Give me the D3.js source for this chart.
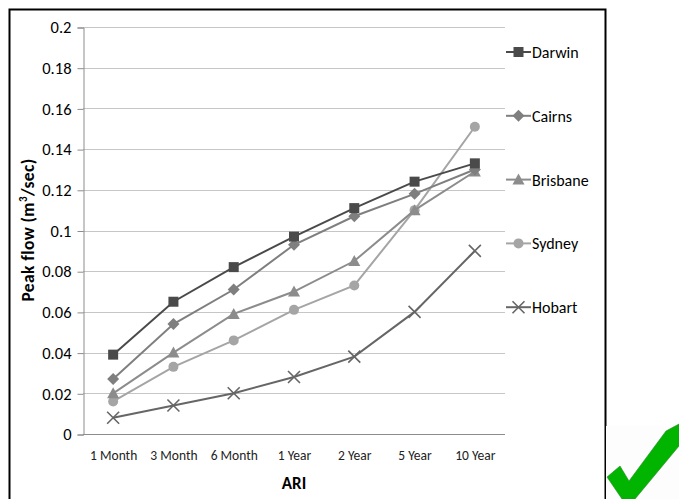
<!DOCTYPE html>
<html>
<head>
<meta charset="utf-8">
<script src="https://cdn.jsdelivr.net/npm/d3@7"></script>
<style>
  body { margin: 0; background: #fff; }
  svg { display: block; }
</style>
</head>
<body>
<div id="chart"></div>
<script>
// data
var categories = ["1 Month", "3 Month", "6 Month", "1 Year", "2 Year", "5 Year", "10 Year"];
var darwin   = [0.039, 0.065, 0.082, 0.097, 0.111, 0.124, 0.133];
var cairns   = [0.027, 0.054, 0.071, 0.093, 0.107, 0.118, 0.130];
var brisbane = [0.020, 0.040, 0.059, 0.070, 0.085, 0.110, 0.129];
var sydney   = [0.016, 0.033, 0.046, 0.061, 0.073, 0.110, 0.151];
var hobart   = [0.008, 0.014, 0.020, 0.028, 0.038, 0.060, 0.090];
var yTicks   = [0, 0.02, 0.04, 0.06, 0.08, 0.1, 0.12, 0.14, 0.16, 0.18, 0.2];

var series = [
  {name: "Darwin",   values: darwin,   color: "#4a4a4a", marker: "square"},
  {name: "Cairns",   values: cairns,   color: "#7f7f7f", marker: "diamond"},
  {name: "Brisbane", values: brisbane, color: "#8c8c8c", marker: "triangle"},
  {name: "Sydney",   values: sydney,   color: "#a5a5a5", marker: "circle"},
  {name: "Hobart",   values: hobart,   color: "#666666", marker: "x"}
];

var width = 679, height = 499;
var font = "Calibri, Carlito, 'Liberation Sans Narrow', 'Liberation Sans', Arial, sans-serif";

var svg = d3.select("#chart").append("svg")
  .attr("width", width)
  .attr("height", height);

// outer frame
svg.append("path")
  .attr("d", "M9.5,499 L9.5,9.5 L605.5,9.5 L605.5,499")
  .attr("fill", "none")
  .attr("stroke", "#000")
  .attr("stroke-width", 2);

var plot = {left: 83, right: 505, top: 27, bottom: 434};

var x = d3.scalePoint()
  .domain(categories)
  .range([plot.left, plot.right])
  .padding(0.5);

var y = d3.scaleLinear()
  .domain([0, 0.2])
  .range([plot.bottom, plot.top]);

// gridlines
svg.append("g")
  .selectAll("line")
  .data(yTicks.slice(1))
  .enter().append("line")
  .attr("x1", plot.left).attr("x2", plot.right)
  .attr("y1", function(d) { return Math.round(y(d)) + 0.5; })
  .attr("y2", function(d) { return Math.round(y(d)) + 0.5; })
  .attr("stroke", "#c6c6c6")
  .attr("stroke-width", 1);

// y axis
var yAxis = svg.append("g")
  .attr("transform", "translate(" + (plot.left + 0.5) + ",0.5)")
  .call(d3.axisLeft(y).tickValues(yTicks).tickSize(6).tickPadding(6)
    .tickFormat(function(d) { return d3.format("")(+d.toFixed(2)); }));
yAxis.select(".domain").attr("stroke", "#8c8c8c");
yAxis.selectAll(".tick line").attr("stroke", "#8c8c8c");
yAxis.selectAll("text")
  .attr("font-family", font)
  .attr("font-size", "16.5px")
  .attr("fill", "#000");

// x axis
var xAxis = svg.append("g")
  .attr("transform", "translate(0," + (plot.bottom + 0.5) + ")")
  .call(d3.axisBottom(x).tickSize(0).tickPadding(16));
xAxis.select(".domain").attr("stroke", "#8c8c8c").attr("d", "M" + plot.left + ",0H" + plot.right);
xAxis.selectAll("text")
  .attr("font-family", font)
  .attr("font-size", "13.5px")
  .attr("fill", "#222");

// axis titles
svg.append("text")
  .attr("x", 294).attr("y", 489)
  .attr("text-anchor", "middle")
  .attr("font-family", font)
  .attr("font-size", "17px")
  .attr("font-weight", "bold")
  .text("ARI");

var yt = svg.append("text")
  .attr("transform", "translate(34,230) rotate(-90)")
  .attr("text-anchor", "middle")
  .attr("font-family", font)
  .attr("font-size", "17.5px")
  .attr("letter-spacing", "0.4px")
  .attr("font-weight", "bold");
yt.append("tspan").text("Peak flow (m");
yt.append("tspan").attr("dy", -7).attr("font-size", "11px").text("3");
yt.append("tspan").attr("dy", 7).text("/sec)");

function drawMarker(g, type, color) {
  if (type === "square") {
    g.append("rect").attr("x", -5).attr("y", -5).attr("width", 10).attr("height", 10).attr("fill", color);
  } else if (type === "diamond") {
    g.append("path").attr("d", "M0,-6L6,0L0,6L-6,0Z").attr("fill", color);
  } else if (type === "triangle") {
    g.append("path").attr("d", "M0,-6L6,5L-6,5Z").attr("fill", color);
  } else if (type === "circle") {
    g.append("circle").attr("r", 5).attr("fill", color);
  } else {
    g.append("path").attr("d", "M-6,-6L6,6M-6,6L6,-6").attr("stroke", color).attr("stroke-width", 1.6).attr("fill", "none");
  }
}

var line = d3.line()
  .x(function(d, i) { return x(categories[i]); })
  .y(function(d) { return y(d); });

// draw series, last first so Darwin sits on top
series.slice().reverse().forEach(function(s) {
  svg.append("path")
    .datum(s.values)
    .attr("d", line)
    .attr("fill", "none")
    .attr("stroke", s.color)
    .attr("stroke-width", 2);

  s.values.forEach(function(v, i) {
    var g = svg.append("g")
      .attr("transform", "translate(" + x(categories[i]) + "," + y(v) + ")");
    drawMarker(g, s.marker, s.color);
  });
});

// legend
var legend = svg.append("g");
series.forEach(function(s, i) {
  var ly = 52 + i * 63.8;
  var g = legend.append("g").attr("transform", "translate(0," + ly + ")");
  g.append("line")
    .attr("x1", 506).attr("x2", 531)
    .attr("stroke", s.color).attr("stroke-width", 2);
  var m = g.append("g").attr("transform", "translate(518.5,0)");
  drawMarker(m, s.marker, s.color);
  g.append("text")
    .attr("x", 532).attr("y", 6)
    .attr("font-family", font)
    .attr("font-size", "16px")
    .attr("fill", "#000")
    .text(s.name);
});

// green tick in the corner
svg.append("rect")
  .attr("x", 606).attr("y", 426).attr("width", 73).attr("height", 73)
  .attr("fill", "#fdfdfd");
svg.append("path")
  .attr("d", "M607,477 L620,466 L629,481 L666,431 L679,424 L679,446 L635,499 L622,499 Z")
  .attr("fill", "#00b400")
  .attr("stroke", "#2a8a2a")
  .attr("stroke-width", 0.6);
</script>
</body>
</html>
